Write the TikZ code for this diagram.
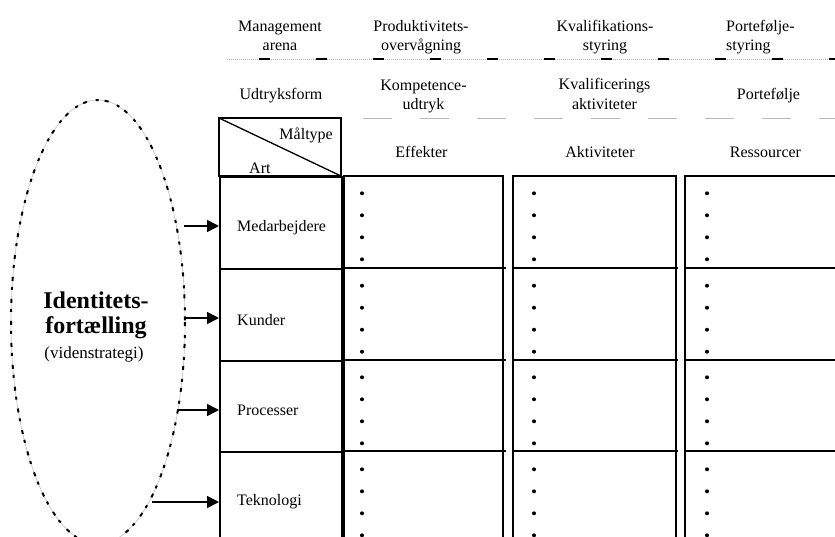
\documentclass[tikz,border=0pt]{standalone}
\usepackage{fontspec}
\setmainfont{Liberation Serif}
\usetikzlibrary{arrows.meta}
\begin{document}
\begin{tikzpicture}[x=1pt,y=-1pt,
  txt/.style={inner sep=0pt, font=\fontsize{16}{19}\selectfont, anchor=base},
  lbl/.style={txt, anchor=base west},
  frame/.style={draw=black, line width=1.6pt},
  cell/.style={draw=black, line width=1.6pt, anchor=north west, minimum width=122pt, inner sep=0pt},
  arr/.style={line width=1.6pt, -{Triangle[length=12pt,width=12pt]}},
  bul/.style={fill=black},
]
\useasboundingbox (0,0) rectangle (835,536);
\clip (0,0) rectangle (835,536);

% --- top separator lines
\draw[gray!60, line width=0.7pt, dash pattern=on 1pt off 1pt] (227,59) -- (835,59);
\draw[black, line width=2pt, dash pattern=on 11pt off 46pt] (259,59) -- (835,59);
\draw[gray!55, line width=0.8pt, dash pattern=on 29pt off 28pt] (363,118) -- (835,118);

% --- header texts
\node[txt] (h1a) at (280,31.5) {Management};
\node[txt] (h1b) at (280,50.7) {arena};
\node[txt] (h2a) at (421,31.5) {Produktivitets-};
\node[txt] (h2b) at (421,50.7) {overvågning};
\node[txt] (h3a) at (605,31.5) {Kvalifikations-};
\node[txt] (h3b) at (605,50.7) {styring};
\node[lbl] (h4a) at (726,31.5) {Portefølje-};
\node[lbl] (h4b) at (726,50.7) {styring};

\node[txt] (u1) at (281,99.3) {Udtryksform};
\node[txt] (u2a) at (423.5,90.3) {Kompetence-};
\node[txt] (u2b) at (423.5,109.8) {udtryk};
\node[txt] (u3a) at (604.5,89.8) {Kvalificerings};
\node[txt] (u3b) at (604.5,109.3) {aktiviteter};
\node[txt] (u4) at (768.5,99.3) {Portefølje};

% --- Maaltype / Art box
\draw[frame] (219,118) rectangle (341,176);
\draw[line width=1.3pt] (219,118) -- (341,176);
\node[txt, anchor=base east] (mt) at (333,139.3) {Måltype};
\node[lbl] (art) at (249,173.3) {Art};
\node[txt] (e1) at (421.5,157.3) {Effekter};
\node[txt] (e2) at (600,157.3) {Aktiviteter};
\node[txt] (e3) at (765.5,157.3) {Ressourcer};

% --- left column cells
\node[cell, minimum height=92pt] (c1) at (219,176) {};
\node[cell, minimum height=92pt] (c2) at (219,268) {};
\node[cell, minimum height=91pt] (c3) at (219,360) {};
\node[cell, minimum height=150pt] (c4) at (219,451) {};
\node[lbl] (l1) at (237,231.7) {Medarbejdere};
\node[lbl] (l2) at (237,325) {Kunder};
\node[lbl] (l3) at (237,415) {Processer};
\node[lbl] (l4) at (237,505) {Teknologi};

% --- content columns
\foreach \xa/\xb/\xc in {344/503/506, 513/676/678, 685/900/900}{
  \draw[frame] (\xa,176) rectangle (\xb,620);
  \foreach \yy in {268,360,451}{
    \draw[frame] (\xa,\yy) -- (\xc,\yy);
  }
}
\foreach \bx in {362,534,707}{
  \foreach \by in {193.3,215.3,237.3,259.3, 285.7,307.7,329.7,351.7, 377.3,399.3,421.3,443.3, 469.3,491.3,513.3,535.3}{
    \fill[bul] (\bx,\by) circle (2pt);
  }
}

% --- ellipse
\draw[gray!45, line width=0.7pt] (98,322) ellipse [x radius=87, y radius=222];
\draw[black, line width=2pt, dash pattern=on 4pt off 9pt on 3pt off 6pt] (98,322) ellipse [x radius=87, y radius=222];
\node[inner sep=0pt, anchor=base, font=\bfseries\fontsize{24}{26}\selectfont] (id1) at (96,308) {Identitets-};
\node[inner sep=0pt, anchor=base, font=\bfseries\fontsize{24}{26}\selectfont] (id2) at (96,333) {fortælling};
\node[inner sep=0pt, anchor=base, font=\fontsize{17}{19}\selectfont] (id3) at (94,358) {(videnstrategi)};

% --- arrows
\coordinate (s1) at (184,226);
\coordinate (s2) at (184,318);
\coordinate (s3) at (177,410);
\coordinate (s4) at (152,502);
\draw[arr] (s1) -- (s1 -| c1.west);
\draw[arr] (s2) -- (s2 -| c2.west);
\draw[arr] (s3) -- (s3 -| c3.west);
\draw[arr] (s4) -- (s4 -| c4.west);
\end{tikzpicture}
\end{document}
